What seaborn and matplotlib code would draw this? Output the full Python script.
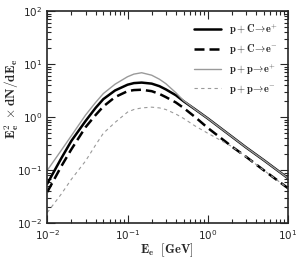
import matplotlib
matplotlib.use("Agg")
import matplotlib.pyplot as plt
from matplotlib.font_manager import FontProperties
import seaborn as sns

# energies (GeV) and E^2 dN/dE
energy = [0.01, 0.015, 0.02, 0.03, 0.04, 0.05, 0.07, 0.1, 0.12, 0.15, 0.2, 0.25, 0.3, 0.4,
          0.5, 0.7, 1, 2, 3, 5, 10]
pc_pos = [0.056, 0.17, 0.36, 0.85, 1.5, 2.2, 3.2, 4.1, 4.4, 4.5, 4.3, 3.85, 3.35, 2.6,
          2.0, 1.4, 0.95, 0.43, 0.27, 0.155, 0.071]
pc_neg = [0.039, 0.12, 0.25, 0.65, 1.1, 1.6, 2.4, 3.1, 3.25, 3.3, 3.1, 2.75, 2.4, 1.9,
          1.5, 1.0, 0.63, 0.28, 0.18, 0.10, 0.046]
pp_pos = [0.10, 0.24, 0.45, 1.1, 1.9, 2.8, 4.2, 5.8, 6.5, 6.9, 6.2, 5.2, 4.3, 2.9,
          2.05, 1.4, 0.95, 0.43, 0.27, 0.155, 0.071]
pp_neg = [0.016, 0.036, 0.068, 0.15, 0.3, 0.5, 0.8, 1.25, 1.4, 1.5, 1.55, 1.5, 1.4, 1.15,
          0.95, 0.68, 0.5, 0.28, 0.18, 0.10, 0.046]

labels = [
    r"$\mathbf{p+C\!\rightarrow\! e^{+}}$",
    r"$\mathbf{p+C\!\rightarrow\! e^{-}}$",
    r"$\mathbf{p+p\!\rightarrow\! e^{+}}$",
    r"$\mathbf{p+p\!\rightarrow\! e^{-}}$",
]

sns.set_style("ticks")
plt.rcParams["font.family"] = ["DejaVu Sans"]

fig = plt.figure(figsize=(3.01, 2.58), dpi=100)
ax = fig.add_axes([0.157, 0.134, 0.800, 0.823])

series = [
    (pc_pos, dict(color="black", lw=1.8, linestyle="-")),
    (pc_neg, dict(color="black", lw=1.8, linestyle=(0, (4, 2)))),
    (pp_pos, dict(color="#9a9a9a", lw=1.0, linestyle="-")),
    (pp_neg, dict(color="#9a9a9a", lw=0.8, linestyle=(0, (3, 3)))),
]
for (vals, style), lab in zip(series, labels):
    sns.lineplot(x=energy, y=vals, ax=ax, label=lab, **style)

ax.set_xscale("log")
ax.set_yscale("log")
ax.set_xlim(0.01, 10)
ax.set_ylim(0.01, 100)

ax.tick_params(which="both", direction="in", top=True, right=True, labelsize=7.5, width=0.8)
ax.tick_params(which="major", length=6)
ax.tick_params(which="minor", length=3)
for sp in ax.spines.values():
    sp.set_linewidth(1.2)

ax.set_xlabel(r"$\mathbf{E_e\ \ [GeV]}$", math_fontfamily="cm", fontsize=9)
ax.set_ylabel(r"$\mathbf{E_e^2\ \times dN/dE_e}$", math_fontfamily="cm", fontsize=9.5)
ax.xaxis.set_label_coords(0.497, -0.085)
ax.yaxis.set_label_coords(-0.11, 0.585)

ax.legend(loc="upper right", frameon=False, handlelength=2.6, labelspacing=0.55,
          borderaxespad=0.6, prop=FontProperties(math_fontfamily="cm", size=7.5))

fig.savefig("out.png", dpi=100)
